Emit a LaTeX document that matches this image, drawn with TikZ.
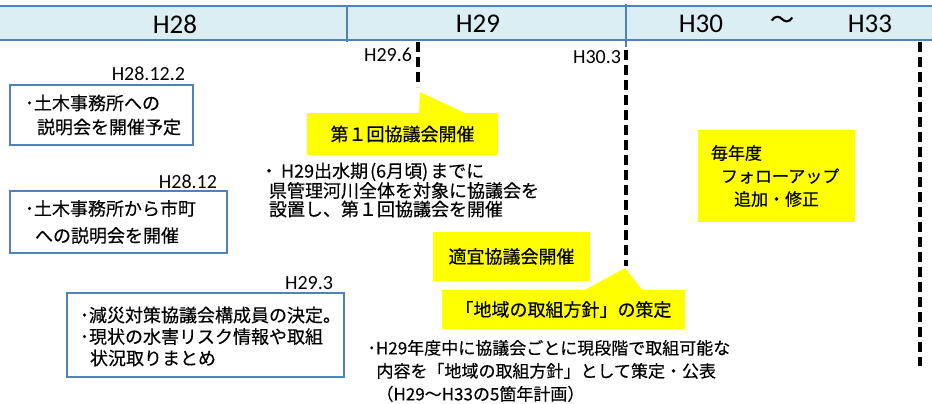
\documentclass[tikz,border=0pt]{standalone}
\usepackage{fontspec}
\usetikzlibrary{calc}
\setmainfont{Carlito}
\newfontfamily\jp[FakeBold=0.35]{Noto Sans CJK JP}
\newfontfamily\lat{Carlito}
\definecolor{boxblue}{HTML}{4F81BD}
\definecolor{headfill}{HTML}{DBEEF4}
\definecolor{callyellow}{HTML}{FFFF00}
\newcommand{\ind}[1]{\hbox{\kern#1}}
\begin{document}
\begin{tikzpicture}[x=1pt,y=-1pt,
  every node/.style={inner sep=0pt, outer sep=0pt},
  headtxt/.style={font=\lat\fontsize{27}{30}\selectfont},
  datelbl/.style={font=\lat\fontsize{20}{24}\selectfont, anchor=east},
  bluebox/.style={draw=boxblue, line width=1.5pt, fill=white},
  ybox/.style={fill=callyellow, font=\jp\fontsize{18}{22}\selectfont},
  plaintxt/.style={align=left, anchor=west},
  milestone/.style={line width=3.5pt, dash pattern=on 10pt off 5pt},
  pointer/.style={fill=callyellow}
]
\useasboundingbox (0,0) rectangle (932,404);

% header band
\fill[headfill] (0,6) rectangle (932,40);
\draw[boxblue, line width=2pt] (0,6) -- (932,6) (0,40) -- (932,40);
\draw[boxblue, line width=2pt] (347,5) -- (347,42);
\draw[boxblue, line width=2pt] (626,4) -- (626,47);
\node[headtxt] (h28) at (175,24) {H28};
\node[headtxt] (h29) at (478,24) {H29};
\node[headtxt] (h30) at (701,24) {H30};
\node[font=\jp\fontsize{24}{26}\selectfont] (tilde) at (782,22) {～};
\node[headtxt] (h33) at (870,24) {H33};

% milestones
\coordinate (m1top) at (418,42);
\coordinate (m1bot) at (418,87);
\coordinate (m2top) at (626,50);
\coordinate (m2bot) at (626,266);
\coordinate (m3top) at (920,42);
\coordinate (m3bot) at (920,366);
\draw[milestone] (m1top) -- (m1bot);
\draw[milestone] (m2top) -- (m2bot);
\draw[milestone] (m3top) -- (m3bot);

% date labels
\node[datelbl] (l296) at (412,55) {H29.6};
\node[datelbl] (l303) at (621,57) {H30.3};
\node[datelbl] (l28122) at (185,74) {H28.12.2};
\node[datelbl] (l2812) at (217,182) {H28.12};
\node[datelbl] (l293) at (333,283) {H29.3};

% blue boxes
\node[bluebox, minimum width=183pt, minimum height=60pt] (b1) at (101.5,115) {};
\node[plaintxt, font=\jp\fontsize{18}{24}\selectfont] (b1t) at ($(b1.west)+(15,0)$)
  {･土木事務所への\\\ind{12pt}説明会を開催予定};
\node[bluebox, minimum width=217pt, minimum height=62pt] (b2) at (118.5,222) {};
\node[plaintxt, font=\jp\fontsize{18}{27}\selectfont] (b2t) at ($(b2.west)+(15,0)$)
  {･土木事務所から市町\\\ind{10pt}への説明会を開催};
\node[bluebox, minimum width=277pt, minimum height=84pt] (b3) at (205.5,335) {};
\node[plaintxt, font=\jp\fontsize{18}{21.5}\selectfont] (b3t) at ($(b3.west)+(13,1.5)$)
  {･減災対策協議会構成員の決定。\\･現状の水害リスク情報や取組\\\ind{10pt}状況取りまとめ};

% yellow boxes
\node[ybox, minimum width=191pt, minimum height=42pt] (y1) at (402.5,134) {第１回協議会開催};
\fill[pointer] ($(y1.north west)+(112,1)$) -- (420,92) -- ($(y1.north west)+(160,1)$) -- cycle;
\node[ybox, minimum width=157pt, minimum height=49pt] (y2) at (511.5,256.5) {適宜協議会開催};
\node[ybox, minimum width=243pt, minimum height=39pt] (y3) at (563.5,309.5) {「地域の取組方針」の策定};
\fill[pointer] ($(y3.north west)+(141,1)$) -- (625,268) -- ($(y3.north west)+(201,1)$) -- cycle;
\node[fill=callyellow, minimum width=157pt, minimum height=92pt] (y4) at (776.5,176) {};
\node[plaintxt, font=\jp\fontsize{17}{23}\selectfont] (y4t) at ($(y4.west)+(13,0)$)
  {毎年度\\\ind{10pt}フォローアップ\\\ind{23pt}追加・修正};

% plain texts
\node[plaintxt, font=\jp\fontsize{18}{18.5}\selectfont] (t1) at (260,190)
  {・\ind{3pt}H29出水期\ind{2pt}(6月頃)\ind{2pt}までに\\\ind{9pt}県管理河川全体を対象に協議会を\\\ind{9pt}設置し、第１回協議会を開催};
\node[plaintxt, font=\jp\fontsize{17}{23}\selectfont] (t2) at (367.5,371)
  {･H29年度中に協議会ごとに現段階で取組可能な\\\ind{9pt}内容を「地域の取組方針」として策定・公表\\\ind{9pt}（H29～H33の5箇年計画）};
\end{tikzpicture}
\end{document}
